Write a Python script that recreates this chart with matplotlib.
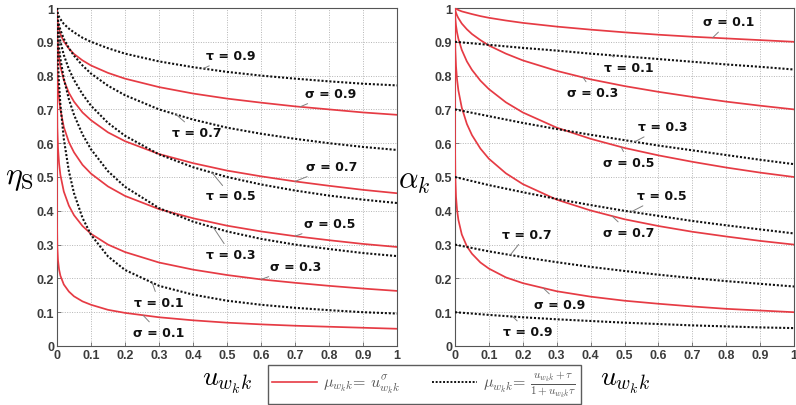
import numpy as np
import matplotlib
matplotlib.use("Agg")
import matplotlib.pyplot as plt
from matplotlib.lines import Line2D

plt.rcParams["mathtext.fontset"] = "cm"

# Sample positions of the load parameter u_{w_k k}
u_fine = [0, 1e-4, 0.001, 0.003, 0.006, 0.01, 0.02, 0.035, 0.05, 0.075, 0.1,
          0.15, 0.2, 0.3, 0.4, 0.5, 0.6, 0.7, 0.8, 0.9, 1.0]
u_coarse = [0.0, 0.1, 0.2, 0.3, 0.4, 0.5, 0.6, 0.7, 0.8, 0.9, 1.0]

sigma_values = [0.1, 0.3, 0.5, 0.7, 0.9]
tau_values = [0.1, 0.3, 0.5, 0.7, 0.9]

# Left panel: eta_S, power-law family (sigma)
eta_sigma_01 = [1, 0.369, 0.293, 0.253, 0.227, 0.208, 0.182, 0.161, 0.147, 0.132, 0.122,
                0.107, 0.098, 0.085, 0.076, 0.069, 0.064, 0.060, 0.057, 0.054, 0.051]
eta_sigma_03 = [1, 0.749, 0.646, 0.585, 0.541, 0.506, 0.457, 0.415, 0.387, 0.355, 0.332,
                0.300, 0.278, 0.247, 0.226, 0.210, 0.197, 0.187, 0.178, 0.170, 0.163]
eta_sigma_05 = [1, 0.901, 0.825, 0.772, 0.732, 0.699, 0.648, 0.603, 0.573, 0.536, 0.510,
                0.472, 0.444, 0.405, 0.378, 0.356, 0.339, 0.325, 0.313, 0.302, 0.293]
eta_sigma_07 = [1, 0.962, 0.917, 0.881, 0.852, 0.827, 0.787, 0.749, 0.723, 0.691, 0.668,
                0.632, 0.606, 0.568, 0.541, 0.519, 0.502, 0.487, 0.474, 0.462, 0.452]
eta_sigma_09 = [1, 0.988, 0.968, 0.951, 0.937, 0.923, 0.901, 0.880, 0.864, 0.845, 0.830,
                0.808, 0.791, 0.766, 0.747, 0.732, 0.720, 0.709, 0.700, 0.691, 0.684]

# Left panel: eta_S, rational family (tau)
eta_tau_01 = [1, 0.970, 0.906, 0.838, 0.774, 0.714, 0.613, 0.517, 0.452, 0.379, 0.329,
              0.265, 0.225, 0.178, 0.152, 0.134, 0.122, 0.113, 0.106, 0.100, 0.096]
eta_tau_03 = [1, 0.985, 0.952, 0.917, 0.883, 0.850, 0.791, 0.730, 0.684, 0.626, 0.582,
              0.517, 0.471, 0.408, 0.368, 0.339, 0.317, 0.300, 0.287, 0.275, 0.266]
eta_tau_05 = [1, 0.990, 0.968, 0.945, 0.923, 0.901, 0.861, 0.819, 0.787, 0.745, 0.711,
              0.660, 0.622, 0.567, 0.529, 0.500, 0.478, 0.460, 0.445, 0.433, 0.423]
eta_tau_07 = [1, 0.994, 0.979, 0.964, 0.950, 0.935, 0.909, 0.881, 0.859, 0.830, 0.806,
              0.770, 0.742, 0.700, 0.670, 0.646, 0.628, 0.613, 0.600, 0.589, 0.580]
eta_tau_09 = [1, 0.997, 0.990, 0.982, 0.974, 0.967, 0.953, 0.939, 0.928, 0.912, 0.900,
              0.881, 0.865, 0.842, 0.825, 0.811, 0.800, 0.791, 0.783, 0.776, 0.771]

# Right panel: alpha_k, power-law family (sigma)
alpha_sigma_01 = [1, 1.000, 0.999, 0.998, 0.996, 0.994, 0.990, 0.986, 0.982, 0.976, 0.971,
                  0.963, 0.956, 0.945, 0.936, 0.928, 0.921, 0.915, 0.910, 0.905, 0.900]
alpha_sigma_03 = [1, 0.999, 0.993, 0.986, 0.978, 0.970, 0.954, 0.937, 0.923, 0.905, 0.889,
                  0.865, 0.845, 0.814, 0.789, 0.769, 0.752, 0.737, 0.723, 0.711, 0.700]
alpha_sigma_05 = [1, 0.990, 0.969, 0.948, 0.928, 0.909, 0.876, 0.842, 0.817, 0.785, 0.760,
                  0.721, 0.691, 0.646, 0.613, 0.586, 0.564, 0.545, 0.528, 0.513, 0.500]
alpha_sigma_07 = [1, 0.937, 0.875, 0.828, 0.789, 0.756, 0.705, 0.657, 0.624, 0.584, 0.554,
                  0.511, 0.479, 0.433, 0.401, 0.375, 0.355, 0.338, 0.324, 0.311, 0.300]
alpha_sigma_09 = [1, 0.602, 0.500, 0.442, 0.403, 0.373, 0.330, 0.295, 0.273, 0.247, 0.229,
                  0.203, 0.186, 0.162, 0.146, 0.134, 0.125, 0.117, 0.110, 0.105, 0.100]

# Right panel: alpha_k, rational family (tau)
alpha_tau_01 = [0.900, 0.891, 0.882, 0.874, 0.865, 0.857, 0.849, 0.841, 0.833, 0.826, 0.818]
alpha_tau_03 = [0.700, 0.680, 0.660, 0.642, 0.625, 0.609, 0.593, 0.579, 0.565, 0.551, 0.538]
alpha_tau_05 = [0.500, 0.476, 0.455, 0.435, 0.417, 0.400, 0.385, 0.370, 0.357, 0.345, 0.333]
alpha_tau_07 = [0.300, 0.280, 0.263, 0.248, 0.234, 0.222, 0.211, 0.201, 0.192, 0.184, 0.176]
alpha_tau_09 = [0.100, 0.092, 0.085, 0.079, 0.074, 0.069, 0.065, 0.061, 0.058, 0.055, 0.053]

tick_values = [0, 0.1, 0.2, 0.3, 0.4, 0.5, 0.6, 0.7, 0.8, 0.9, 1]
tick_labels = ["0", "0.1", "0.2", "0.3", "0.4", "0.5", "0.6", "0.7", "0.8", "0.9", "1"]

eta_sigma = [eta_sigma_01, eta_sigma_03, eta_sigma_05, eta_sigma_07, eta_sigma_09]
eta_tau = [eta_tau_01, eta_tau_03, eta_tau_05, eta_tau_07, eta_tau_09]
alpha_sigma = [alpha_sigma_01, alpha_sigma_03, alpha_sigma_05, alpha_sigma_07, alpha_sigma_09]
alpha_tau = [alpha_tau_01, alpha_tau_03, alpha_tau_05, alpha_tau_07, alpha_tau_09]

RED = "#e63b44"
DOT = (0, (1.0, 0.9))
TICK_FONT = dict(family="Liberation Sans", weight="bold", size=9, color="#3c3c3c")

fig = plt.figure(figsize=(7.96, 4.06), dpi=100)
axL = fig.add_axes([57 / 796, 59 / 406, 340 / 796, 338 / 406])
axR = fig.add_axes([455 / 796, 59 / 406, 339 / 796, 338 / 406])

for ax in (axL, axR):
    ax.set_xlim(0, 1)
    ax.set_ylim(0, 1)
    ax.set_xticks(tick_values)
    ax.set_yticks(tick_values)
    ax.set_xticklabels(tick_labels, fontdict=TICK_FONT)
    ax.set_yticklabels(tick_labels, fontdict=TICK_FONT)
    ax.tick_params(direction="in", length=3, width=0.6, color="#666666", pad=2)
    ax.grid(True, linestyle=(0, (1, 1.5)), color="#b5b5b5", linewidth=0.7)
    ax.set_axisbelow(True)
    for sp in ax.spines.values():
        sp.set_color("#555555")
        sp.set_linewidth(0.8)

for ys in eta_sigma:
    axL.plot(u_fine, ys, color=RED, lw=1.25, zorder=3)
for ys in eta_tau:
    axL.plot(u_fine, ys, color="#111111", lw=1.5, linestyle=DOT, zorder=3)
for ys in alpha_sigma:
    axR.plot(u_fine, ys, color=RED, lw=1.25, zorder=3)
for ys in alpha_tau:
    axR.plot(u_coarse, ys, color="#111111", lw=1.5, linestyle=DOT, zorder=3)

ann_font = dict(fontsize=9, fontweight="bold", ha="center", va="center", color="#111111")
arrow = dict(arrowstyle="-", color="#808080", lw=0.7, shrinkA=1, shrinkB=0)


def tag(ax, label, xs, ys, u_at, text_xy):
    ax.annotate(label, xy=(u_at, np.interp(u_at, xs, ys)), xytext=text_xy,
                arrowprops=arrow, zorder=5, **ann_font)


# Curve tags, left panel
tag(axL, "τ = 0.9", u_fine, eta_tau_09, 0.43, (0.512, 0.858))
tag(axL, "σ = 0.9", u_fine, eta_sigma_09, 0.715, (0.806, 0.746))
tag(axL, "τ = 0.7", u_fine, eta_tau_07, 0.35, (0.41, 0.633))
tag(axL, "σ = 0.7", u_fine, eta_sigma_07, 0.70, (0.809, 0.530))
tag(axL, "τ = 0.5", u_fine, eta_tau_05, 0.456, (0.512, 0.444))
tag(axL, "σ = 0.5", u_fine, eta_sigma_05, 0.70, (0.803, 0.361))
tag(axL, "τ = 0.3", u_fine, eta_tau_03, 0.46, (0.512, 0.272))
tag(axL, "σ = 0.3", u_fine, eta_sigma_03, 0.60, (0.703, 0.234))
tag(axL, "τ = 0.1", u_fine, eta_tau_01, 0.28, (0.30, 0.130))
tag(axL, "σ = 0.1", u_fine, eta_sigma_01, 0.253, (0.30, 0.041))

# Curve tags, right panel
tag(axR, "σ = 0.1", u_fine, alpha_sigma_01, 0.76, (0.808, 0.959))
tag(axR, "τ = 0.1", u_coarse, alpha_tau_01, 0.46, (0.513, 0.825))
tag(axR, "σ = 0.3", u_fine, alpha_sigma_03, 0.378, (0.407, 0.751))
tag(axR, "τ = 0.3", u_coarse, alpha_tau_03, 0.53, (0.614, 0.648))
tag(axR, "σ = 0.5", u_fine, alpha_sigma_05, 0.49, (0.513, 0.544))
tag(axR, "τ = 0.5", u_coarse, alpha_tau_05, 0.52, (0.611, 0.444))
tag(axR, "σ = 0.7", u_fine, alpha_sigma_07, 0.463, (0.513, 0.337))
tag(axR, "τ = 0.7", u_coarse, alpha_tau_07, 0.163, (0.212, 0.331))
tag(axR, "σ = 0.9", u_fine, alpha_sigma_09, 0.26, (0.31, 0.124))
tag(axR, "τ = 0.9", u_coarse, alpha_tau_09, 0.17, (0.215, 0.044))

# Axis titles
fig.text(19 / 796, 1 - 178 / 406, r"$\eta_{\mathrm{S}}$", fontsize=23, ha="center", va="center")
fig.text(414 / 796, 1 - 182 / 406, r"$\alpha_k$", fontsize=22, ha="center", va="center")
fig.text(227 / 796, 1 - 382 / 406, r"$u_{w_k k}$", fontsize=20, ha="center", va="center")
fig.text(625 / 796, 1 - 382 / 406, r"$u_{w_k k}$", fontsize=20, ha="center", va="center")

handles = [Line2D([], [], color=RED, lw=1.2),
           Line2D([], [], color="#111111", lw=1.4, linestyle=DOT)]
labels = [r"$\mu_{w_k k}\!=\,u^{\sigma}_{w_k k}$",
          r"$\mu_{w_k k}\!=\,\frac{u_{w_k k}+\tau}{1+u_{w_k k}\tau}$"]
leg = fig.legend(handles, labels, ncol=2, loc="center",
                 bbox_to_anchor=(424.5 / 796, 1 - 385.5 / 406),
                 frameon=True, fancybox=False, edgecolor="#333333",
                 fontsize=11.5, handlelength=2.8, columnspacing=2.0,
                 borderpad=0.3, handletextpad=0.4)
leg.get_frame().set_linewidth(1.0)
for t in leg.get_texts():
    t.set_color("#555555")

fig.savefig("out.png", dpi=100)
